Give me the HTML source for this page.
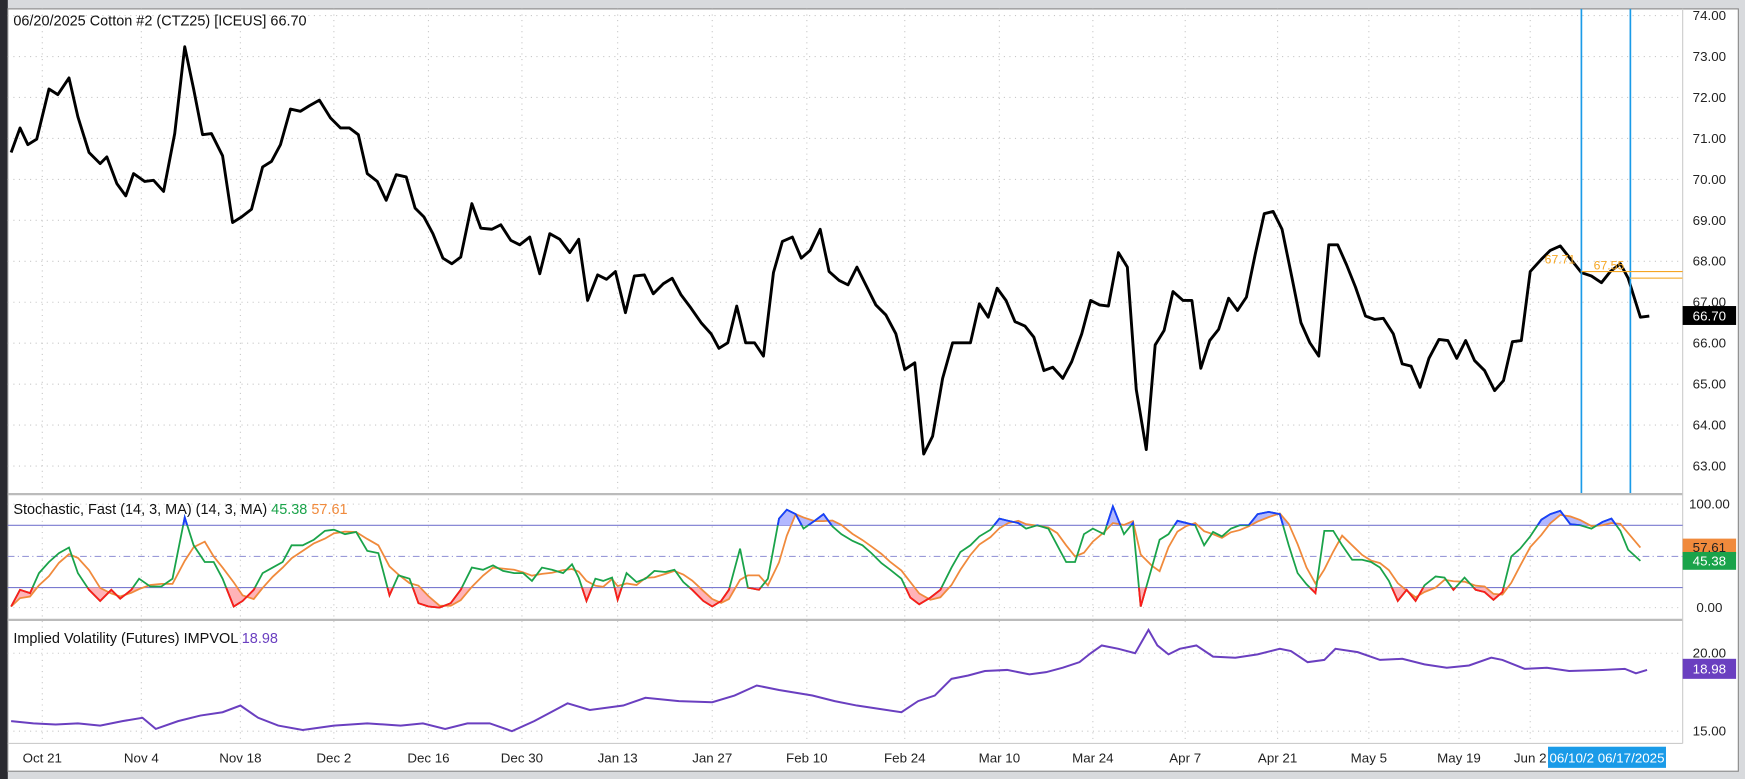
<!DOCTYPE html>
<html><head><meta charset="utf-8"><style>
html,body{margin:0;padding:0;background:#d8dadd;}
svg{display:block;font-family:"Liberation Sans",sans-serif;}
</style></head><body>
<svg id="s" width="1745" height="779" viewBox="0 0 1568 700" preserveAspectRatio="none" xmlns="http://www.w3.org/2000/svg">
<rect x="0" y="0" width="1568" height="700" fill="#d8dadd"/>
<rect x="0" y="0" width="7" height="700" fill="#2a2a30"/>
<rect x="7" y="8" width="1555" height="685" fill="#fff" stroke="#888" stroke-width="1"/>
<g id="grid" stroke="#c8c8c8" stroke-dasharray="1,4" stroke-width="1"></g>
<line x1="7" y1="444" x2="1512" y2="444" stroke="#bbb" stroke-width="2"/>
<line x1="7" y1="557" x2="1512" y2="557" stroke="#bbb" stroke-width="2"/>
<line x1="7" y1="668" x2="1512" y2="668" stroke="#ccc" stroke-width="1"/>
<line x1="1512" y1="8" x2="1512" y2="668" stroke="#ccc" stroke-width="1"/>
<defs>
<clipPath id="hi"><rect x="0" y="440" width="1512" height="32"/></clipPath>
<clipPath id="lo"><rect x="0" y="528" width="1512" height="28"/></clipPath>
</defs>
<line x1="7" y1="472" x2="1512" y2="472" stroke="#7a7ad0" stroke-width="1"/>
<line x1="7" y1="528" x2="1512" y2="528" stroke="#7a7ad0" stroke-width="1"/>
<line x1="7" y1="500" x2="1512" y2="500" stroke="#9a9ad8" stroke-width="1" stroke-dasharray="6,3,1,3"/>
<g id="series"></g>
<line x1="1421" y1="8" x2="1421" y2="443" stroke="#1a9be8" stroke-width="1.5"/>
<line x1="1465" y1="8" x2="1465" y2="443" stroke="#1a9be8" stroke-width="1.5"/>
<line x1="1421" y1="244" x2="1512" y2="244" stroke="#f5a623" stroke-width="1"/>
<line x1="1465" y1="250" x2="1512" y2="250" stroke="#f8c46a" stroke-width="1.5"/>
<text x="1388" y="237" font-size="11" fill="#f5a623">67.71</text>
<text x="1432" y="242" font-size="11" fill="#f5a623">67.55</text>
<text x="12" y="23" font-size="13" fill="#111">06/20/2025  Cotton #2 (CTZ25) [ICEUS]  66.70</text>
<text x="12" y="462" font-size="13" fill="#111">Stochastic, Fast (14, 3, MA)  (14, 3, MA) <tspan fill="#1aa34a">45.38</tspan> <tspan fill="#f08a3c">57.61</tspan></text>
<text x="12" y="578" font-size="13" fill="#111">Implied Volatility (Futures)  IMPVOL <tspan fill="#6a3fc0">18.98</tspan></text>
<g id="axis" font-size="12" fill="#222" text-anchor="middle"></g>
<rect x="1512" y="275" width="48" height="17" fill="#000"/>
<text x="1536" y="288" font-size="12" fill="#fff" text-anchor="middle">66.70</text>
<rect x="1512" y="484" width="48" height="14" fill="#f08a3c"/>
<text x="1536" y="496" font-size="12" fill="#222" text-anchor="middle">57.61</text>
<rect x="1512" y="496" width="48" height="16" fill="#1aa34a"/>
<text x="1536" y="508" font-size="12" fill="#fff" text-anchor="middle">45.38</text>
<rect x="1512" y="592" width="48" height="18" fill="#6a3fc0"/>
<text x="1536" y="605" font-size="12" fill="#fff" text-anchor="middle">18.98</text>
<rect x="1391" y="671" width="106" height="19" fill="#1a9be8"/>
<text x="1444" y="685" font-size="12" fill="#fff" text-anchor="middle">06/10/2  06/17/2025</text>
</svg>
<script>
const NS="http://www.w3.org/2000/svg";
function el(t,a,p){const e=document.createElementNS(NS,t);for(const k in a)e.setAttribute(k,a[k]);(p||document.getElementById('series')).appendChild(e);return e;}
const grid=document.getElementById('grid'),axis=document.getElementById('axis');
const dates=[["Oct 21",38],["Nov 4",127],["Nov 18",216],["Dec 2",300],["Dec 16",385],["Dec 30",469],["Jan 13",555],["Jan 27",640],["Feb 10",725],["Feb 24",813],["Mar 10",898],["Mar 24",982],["Apr 7",1065],["Apr 21",1148],["May 5",1230],["May 19",1311],["Jun 2",1375]];
dates.forEach(d=>{el('line',{x1:d[1],y1:8,x2:d[1],y2:668},grid);const t=el('text',{x:d[1],y:685},axis);t.textContent=d[0];});
for(let p=63;p<=74;p++){const y=14+(74-p)*36.8;el('line',{x1:7,y1:y,x2:1512,y2:y},grid);const t=el('text',{x:1536,y:y+4},axis);t.textContent=p.toFixed(2);}
[[453,"100.00"],[546,"0.00"]].forEach(a=>{el('line',{x1:7,y1:a[0],x2:1512,y2:a[0]},grid);const t=el('text',{x:1536,y:a[0]+4},axis);t.textContent=a[1];});
[[587,"20.00"],[657,"15.00"]].forEach(a=>{el('line',{x1:7,y1:a[0],x2:1512,y2:a[0]},grid);const t=el('text',{x:1536,y:a[0]+4},axis);t.textContent=a[1];});
const price=[[10,137],[18,115],[25,130],[33,125],[44,80],[52,85],[62,70],[70,105],[80,137],[90,147],[96,141],[105,165],[113,176],[120,156],[130,163],[138,162],[147,172],[157,120],[166,42],[174,80],[182,121],[190,120],[200,140],[209,200],[217,195],[226,188],[236,150],[244,145],[252,130],[261,98],[270,100],[278,95],[287,90],[297,106],[306,115],[314,115],[322,121],[330,156],[339,163],[347,180],[356,157],[365,159],[373,187],[381,195],[389,210],[398,232],[406,237],[414,231],[424,183],[432,205],[442,206],[450,202],[459,216],[467,220],[476,213],[485,246],[494,210],[503,215],[512,227],[520,215],[528,270],[537,247],[545,251],[553,244],[562,281],[570,248],[579,247],[587,264],[596,255],[604,250],[612,265],[621,277],[630,290],[639,300],[646,313],[654,308],[662,275],[670,308],[678,308],[686,320],[695,245],[703,217],[712,213],[720,232],[728,225],[737,206],[745,244],[754,252],[762,256],[770,240],[779,258],[787,274],[796,283],[805,300],[813,332],[822,326],[830,408],[838,392],[847,340],[856,308],[864,308],[872,308],[880,273],[888,285],[896,259],[904,270],[912,289],[921,293],[929,303],[938,333],[946,330],[955,340],[963,325],[972,300],[980,270],[988,274],[996,275],[1005,227],[1013,240],[1021,350],[1030,404],[1038,310],[1046,297],[1054,262],[1063,270],[1071,270],[1079,331],[1087,306],[1095,296],[1104,268],[1112,279],[1120,267],[1128,228],[1136,192],[1144,190],[1152,206],[1161,250],[1169,290],[1177,308],[1185,320],[1194,220],[1202,220],[1210,238],[1218,258],[1227,284],[1235,287],[1243,286],[1252,300],[1260,327],[1268,329],[1276,348],[1284,322],[1293,305],[1301,306],[1309,322],[1317,306],[1325,324],[1334,333],[1343,351],[1351,342],[1359,307],[1367,306],[1375,244],[1385,233],[1393,225],[1402,221],[1421,245],[1430,248],[1439,254],[1447,244],[1456,237],[1463,250],[1474,285],[1482,284]];
const K=[[10,545],[18,530],[27,533],[35,515],[44,505],[53,497],[62,492],[70,515],[80,530],[90,540],[100,530],[108,538],[118,530],[125,520],[135,527],[145,527],[155,520],[166,465],[174,490],[184,505],[192,505],[200,520],[210,545],[218,540],[228,530],[236,515],[245,510],[254,505],[262,490],[272,490],[282,485],[292,477],[300,476],[310,480],[320,478],[330,495],[340,497],[350,535],[358,517],[368,520],[376,542],[385,545],[395,546],[405,542],[414,530],[424,510],[434,512],[443,508],[452,513],[462,515],[470,515],[478,522],[487,510],[496,512],[506,515],[514,507],[520,519],[527,540],[535,520],[542,522],[550,519],[555,539],[563,515],[572,523],[580,520],[588,513],[598,514],[606,512],[614,523],[622,530],[632,540],[640,545],[648,540],[655,530],[665,493],[672,528],[682,530],[690,520],[700,466],[707,458],[715,462],[722,475],[732,468],[740,462],[748,473],[756,480],[766,486],[775,490],[783,497],[792,506],[800,512],[810,520],[818,537],[826,543],[836,537],[845,530],[855,510],[863,496],[872,490],[880,482],[890,476],[898,466],[906,468],[915,470],[922,475],[932,472],[942,475],[950,490],[958,505],[966,505],[974,480],[982,475],[992,480],[1000,455],[1010,480],[1018,470],[1025,545],[1035,510],[1042,485],[1050,480],[1058,468],[1066,470],[1074,472],[1082,490],[1090,478],[1098,482],[1106,475],[1114,472],[1122,472],[1130,462],[1140,460],[1150,462],[1158,490],[1166,515],[1174,525],[1182,533],[1190,477],[1198,477],[1206,490],[1215,503],[1224,503],[1232,505],[1240,510],[1248,522],[1256,540],[1264,530],[1272,540],[1280,526],[1290,518],[1298,519],[1306,530],[1316,519],[1326,530],[1334,532],[1342,539],[1350,532],[1358,500],[1366,493],[1375,482],[1385,467],[1393,462],[1402,459],[1411,471],[1420,472],[1430,475],[1440,469],[1448,466],[1456,477],[1463,494],[1474,504]];
const D=K.map((p,i)=>{const a=K.slice(Math.max(0,i-2),i+1);return [p[0],a.reduce((s,q)=>s+q[1],0)/a.length];});
D[D.length-1][1]=492;
const iv=[[10,648],[30,650],[50,651],[70,650],[90,652],[110,648],[128,645],[140,655],[160,648],[180,643],[200,640],[216,634],[232,645],[250,652],[272,656],[300,652],[330,650],[360,652],[380,650],[400,655],[420,650],[440,650],[460,657],[480,648],[495,640],[510,632],[530,638],[560,634],[580,627],[610,630],[640,631],[660,625],[680,616],[700,620],[730,625],[750,630],[770,634],[790,637],[810,640],[825,630],[840,625],[855,610],[870,607],[885,603],[905,602],[925,606],[940,604],[955,600],[970,595],[980,587],[990,580],[1005,583],[1020,587],[1032,566],[1040,580],[1050,588],[1060,583],[1075,580],[1090,590],[1110,591],[1130,588],[1150,583],[1160,585],[1175,595],[1190,593],[1200,583],[1220,586],[1240,593],[1260,592],[1280,597],[1300,600],[1320,598],[1340,591],[1350,593],[1370,601],[1390,600],[1410,603],[1440,602],[1460,601],[1470,605],[1480,602]];
const pts=a=>a.map(p=>p[0]+","+p[1].toFixed(1)).join(" ");
const area=pts(K)+" "+pts(D.slice().reverse());
el('polygon',{points:area,fill:"#ffb3b8","fill-rule":"nonzero","clip-path":"url(#lo)"});
el('polygon',{points:area,fill:"#b3b8ff","fill-rule":"nonzero","clip-path":"url(#hi)"});
el('polyline',{points:pts(D),fill:"none",stroke:"#f08a3c","stroke-width":1.6});
el('polyline',{points:pts(K),fill:"none",stroke:"#1aa34a","stroke-width":1.6});
el('polyline',{points:pts(K),fill:"none",stroke:"#ff1a1a","stroke-width":1.6,"clip-path":"url(#lo)"});
el('polyline',{points:pts(K),fill:"none",stroke:"#1a3cff","stroke-width":1.6,"clip-path":"url(#hi)"});
el('polyline',{points:pts(iv),fill:"none",stroke:"#6a3fc0","stroke-width":1.8});
el('polyline',{points:pts(price),fill:"none",stroke:"#000","stroke-width":2.6,"stroke-linejoin":"round"});
</script>
</body></html>
